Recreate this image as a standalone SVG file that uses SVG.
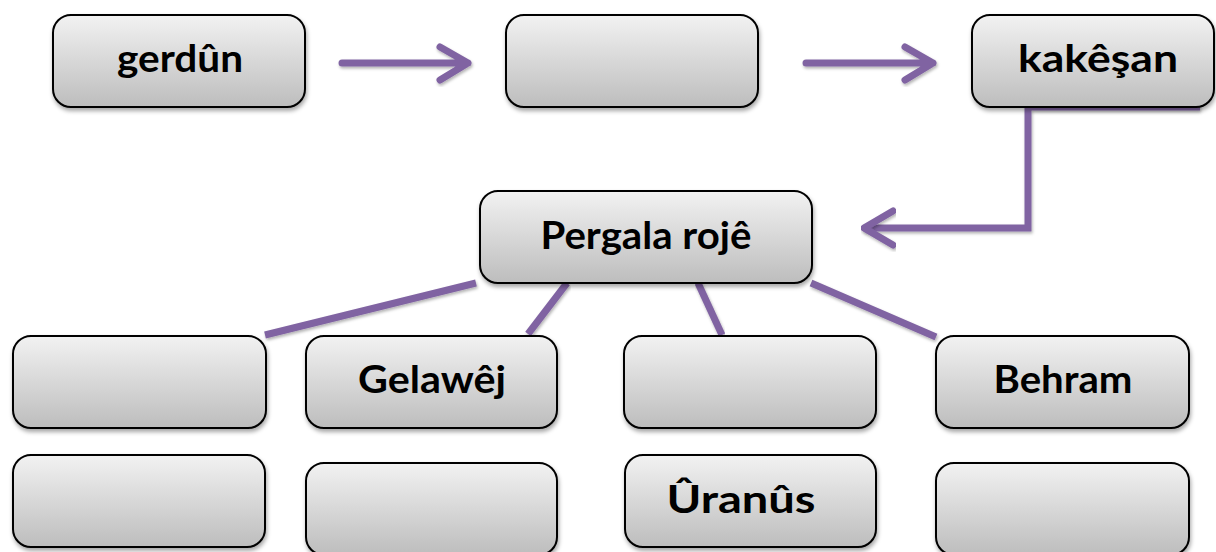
<svg xmlns="http://www.w3.org/2000/svg" width="1216" height="552" viewBox="0 0 1216 552">
<defs>
<linearGradient id="g" x1="0" y1="0" x2="0" y2="1">
<stop offset="0" stop-color="#F2F2F2"/>
<stop offset="1" stop-color="#BDBDBD"/>
</linearGradient>
<filter id="sh" x="-10%" y="-10%" width="120%" height="130%">
<feDropShadow dx="1" dy="3" stdDeviation="2" flood-color="#000" flood-opacity="0.35"/>
</filter>
<filter id="lsh" x="-10%" y="-10%" width="120%" height="130%">
<feDropShadow dx="1" dy="2" stdDeviation="1.5" flood-color="#000" flood-opacity="0.3"/>
</filter>
</defs>
<style>
.box{fill:url(#g);stroke:#000;stroke-width:2;filter:url(#sh)}
.t{font-family:Lato,"Open Sans","Liberation Sans",sans-serif;font-weight:bold;font-size:38px;fill:#000;text-anchor:middle}
.c{fill:none;stroke:#8064A2;stroke-width:7;stroke-linecap:round;stroke-linejoin:round;filter:url(#lsh)}
.cb{fill:none;stroke:#8064A2;stroke-width:7;stroke-linecap:butt;stroke-linejoin:miter;filter:url(#lsh)}
</style>
<g id="connectors">
<path class="c" d="M342 63 H468 M440 47 L468 63 L440 80"/>
<path class="c" d="M806 63 H933 M905 47 L933 63 L905 80"/>
<path class="cb" d="M1200 107 H1028 V228 H864"/>
<path class="c" d="M893 211 L864 228 L893 245"/>
<path class="cb" d="M476 283 L265 335"/>
<path class="cb" d="M567 283 L528 334"/>
<path class="cb" d="M698 283 L722 335"/>
<path class="cb" d="M811 283 L936 337"/>
</g>
<g id="n-gerdun"><rect class="box" x="53" y="15" width="252" height="92" rx="18"/><text class="t" x="180" y="72" textLength="126" lengthAdjust="spacingAndGlyphs">gerdûn</text></g>
<g id="n-blank1"><rect class="box" x="506" y="15" width="252" height="92" rx="18"/></g>
<g id="n-kakesan"><rect class="box" x="972" y="15" width="242" height="92" rx="18"/><text class="t" x="1098" y="72" textLength="160" lengthAdjust="spacingAndGlyphs">kakêşan</text></g>
<g id="n-pergala"><rect class="box" x="480" y="191" width="332" height="92" rx="18"/><text class="t" x="646" y="249" textLength="211" lengthAdjust="spacingAndGlyphs">Pergala rojê</text></g>
<g id="n-blank2"><rect class="box" x="13" y="336" width="253" height="92" rx="18"/></g>
<g id="n-gelawej"><rect class="box" x="306" y="336" width="251" height="92" rx="18"/><text class="t" x="432" y="393" textLength="148" lengthAdjust="spacingAndGlyphs">Gelawêj</text></g>
<g id="n-blank3"><rect class="box" x="624" y="336" width="252" height="92" rx="18"/></g>
<g id="n-behram"><rect class="box" x="936" y="336" width="253" height="92" rx="18"/><text class="t" x="1063" y="393" textLength="139" lengthAdjust="spacingAndGlyphs">Behram</text></g>
<g id="n-blank4"><rect class="box" x="13" y="455" width="252" height="92" rx="18"/></g>
<g id="n-blank5"><rect class="box" x="306" y="463" width="251" height="92" rx="18"/></g>
<g id="n-uranus"><rect class="box" x="625" y="455" width="251" height="92" rx="18"/><text class="t" x="741" y="513" textLength="149" lengthAdjust="spacingAndGlyphs">Ûranûs</text></g>
<g id="n-blank6"><rect class="box" x="936" y="463" width="253" height="92" rx="18"/></g>
</svg>
